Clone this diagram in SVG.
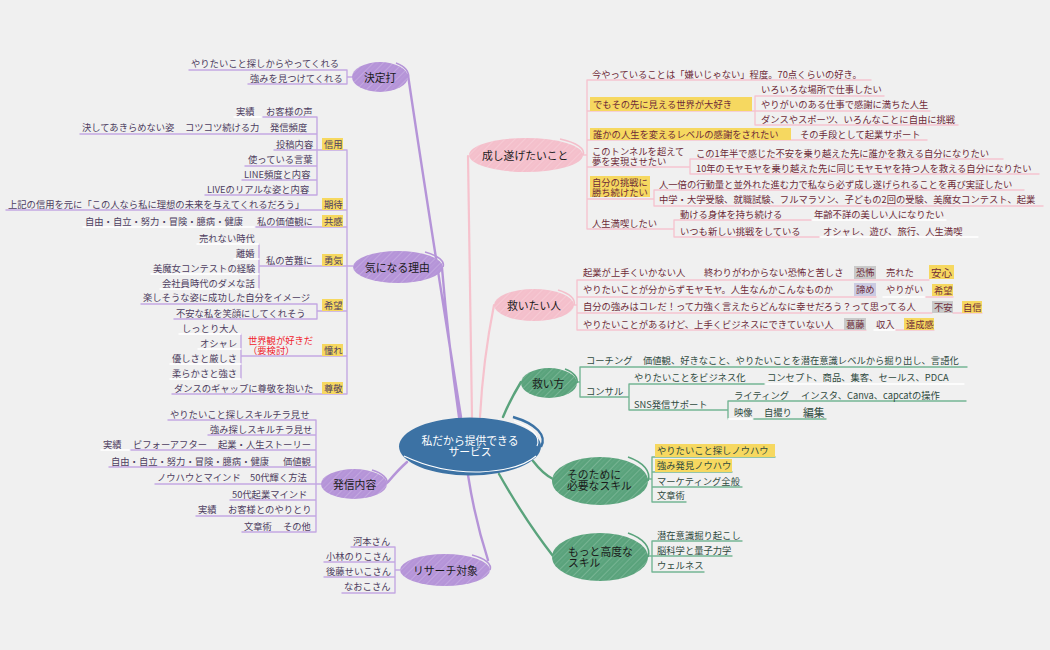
<svg xmlns="http://www.w3.org/2000/svg" width="1050" height="650" viewBox="0 0 1050 650">
<style>
text{font-family:"Noto Sans CJK JP","Noto Sans",sans-serif;font-size:9.3px;dominant-baseline:central}
.p{fill:#4d3d60}.r{fill:#6e2b38}.g{fill:#2f4a3e}.red{fill:#f0222c}
.h{font-size:10.8px;fill:#1a1a1a}.rt{font-size:10.8px;fill:#fff;text-anchor:middle}
.lp,.lr,.lg,.lw,.bp,.br,.bg{fill:none;stroke-linecap:round;stroke-linejoin:round}
.lp{stroke:#c3a8e2;stroke-width:1.4}.lr{stroke:#f5c4cf;stroke-width:1.4}.lg{stroke:#74b594;stroke-width:1.4}.lw{stroke:#fff;stroke-width:1.4}
.bp{stroke:#b594d8;stroke-width:2.4}.br{stroke:#f6c2cd;stroke-width:2.2}.bg{stroke:#5aa37c;stroke-width:2.4}
.y{fill:#f6d860}.gy{fill:#c9c9c9}.lv{fill:#cbcbe2}
.ep{fill:#b594d8}.er{fill:#f4bfcb}.eg{fill:#5aa37c}.hatch{fill:url(#hatch)}
.sp,.sr,.sg{fill:none;stroke-width:1.6}.sp{stroke:#b594d8}.sr{stroke:#f4bfcb}.sg{stroke:#5aa37c}
</style>
<defs>
<pattern id="hatch" width="7" height="7" patternUnits="userSpaceOnUse" patternTransform="rotate(45)"><rect width="1" height="7" fill="#fff" fill-opacity=".18"/><rect x="3.5" width=".6" height="7" fill="#fff" fill-opacity=".1"/></pattern>
</defs>
<rect width="1050" height="650" fill="#f0f0f0"/>
<g id="connectors">
<path class="bp" d="M408 75Q425 190 461 417M442 268Q448 340 459 417M407 462Q398 470 388 482M468 475Q475 520 488 560"/>
<path class="br" d="M468 156Q470 300 472 417M494 305Q483 360 480 417"/>
<path class="bg" d="M503 417Q510 400 521 382M533 461Q543 474 553 479M499 474Q525 520 553 556"/>
<path class="lp" d="M189 70H347M248 84H347M347 70V84M347 77H352M262 117H317M183 134H317M80 134H183M274 150H347M245 166H317M242 180H317M205 195H317M317 117V195M347 150V394M6 210H347M255 227H347M260 266H353M259 244V289M141 304H317M174 319H317M317 304V319M317 311H347M241 356H347M241 334V379M172 394H347M168 420H316M208 435H316M130 450H316M109 467H316M155 484H321M230 500H316M196 516H316M242 532H316M316 420V532M351 547H395M324 562H395M324 577H395M342 593H395M395 547V593M395 570H400"/>
<path class="lw" d="M234 117H262M83 227H255M197 244H259M234 259H259M151 274H259M160 289H259M179 334H241M198 349H241M170 364H241M170 379H241M101 450H130"/>
<path class="lr" d="M587 80H871M587 111H755M755 96H884M755 111H930M755 125H958M755 96V125M587 140H927M587 167H690M690 159H1003M690 174H1039M690 159V174M587 199H654M654 190H1024M654 206H1043M654 190V206M587 229H674M674 220H812M674 237H820M674 220V237M587 80V229M583 155H587M577 280H876M877 280H929M577 297H876M577 313H932M953 313H982M577 330H866M895 330H934M577 280V330M574 305H577M925 297H953"/>
<path class="lw" d="M812 220H946M820 237H978M883 297H925M874 330H895"/>
<path class="lg" d="M580 367H967M580 397H629M629 384H765M629 410H728M629 384V410M728 401H966M753 419H826M728 401V419M580 367V397M577 382H580M652 457H775M652 472H732M652 487H742M652 502H686M652 457V502M648 479H652M652 541H742M652 556H732M652 572H704M652 541V572M648 556H652"/>
<path class="lw" d="M765 384H964M728 419H753"/>
</g>
<g id="root"><ellipse cx="470" cy="446.5" rx="71" ry="29" fill="#3c72a4"/><path d="M404 456Q440 473 480 472Q520 470 536 456" fill="none" stroke="#fff" stroke-width="1.1"/><path d="M513 417A71 29 0 0 1 541 447" fill="none" stroke="#3c72a4" stroke-width="2.4"/><path d="M514 421A68 27 0 0 1 537 446" fill="none" stroke="#fff" stroke-width="1.1"/><text class="rt" x="470" y="440">私だから提供できる<tspan x="470" dy="10.5">サービス</tspan></text></g>
<g id="kettei"><ellipse class="ep" cx="380" cy="77" rx="28" ry="15"/><ellipse class="hatch" cx="380" cy="77" rx="28" ry="15"/><path class="sp" d="M396 63A28 15 0 0 1 408 78"/><text class="h" x="364" y="77">決定打</text></g>
<g id="t1"><text class="p" x="191" y="63">やりたいこと探しからやってくれる</text></g>
<g id="t2"><text class="p" x="250" y="78">強みを見つけてくれる</text></g>
<g id="kininaru"><ellipse class="ep" cx="398" cy="267" rx="45" ry="16"/><ellipse class="hatch" cx="398" cy="267" rx="45" ry="16"/><path class="sp" d="M425 252A45 16 0 0 1 443 267"/><text class="h" x="365" y="267">気になる理由</text></g>
<g id="shinyo"><rect class="y" x="322" y="138" width="21" height="12"/><text class="p" x="324" y="144">信用</text></g>
<g id="t3"><text class="p" x="266" y="111">お客様の声</text></g>
<g id="t4"><text class="p" x="236" y="111">実績</text></g>
<g id="t5"><text class="p" x="270" y="127">発信頻度</text></g>
<g id="t6"><text class="p" x="185" y="127">コツコツ続ける力</text></g>
<g id="t7"><text class="p" x="82" y="127">決してあきらめない姿</text></g>
<g id="t8"><text class="p" x="276" y="144">投稿内容</text></g>
<g id="t9"><text class="p" x="248" y="159">使っている言葉</text></g>
<g id="t10"><text class="p" x="244" y="174">LINE頻度と内容</text></g>
<g id="t11"><text class="p" x="207" y="189">LIVEのリアルな姿と内容</text></g>
<g id="kitai"><rect class="y" x="322" y="198" width="21" height="12"/><text class="p" x="324" y="204">期待</text></g>
<g id="t12"><text class="p" x="8" y="204">上記の信用を元に「この人なら私に理想の未来を与えてくれるだろう」</text></g>
<g id="kyokan"><rect class="y" x="322" y="215" width="21" height="12"/><text class="p" x="324" y="221">共感</text></g>
<g id="t13"><text class="p" x="257" y="221">私の価値観に</text></g>
<g id="t14"><text class="p" x="85" y="221">自由・自立・努力・冒険・臆病・健康</text></g>
<g id="yuki"><rect class="y" x="322" y="254" width="21" height="12"/><text class="p" x="324" y="260">勇気</text></g>
<g id="t15"><text class="p" x="266" y="260">私の苦難に</text></g>
<g id="t16"><text class="p" x="199" y="238">売れない時代</text></g>
<g id="t17"><text class="p" x="236" y="253">離婚</text></g>
<g id="t18"><text class="p" x="153" y="268">美魔女コンテストの経験</text></g>
<g id="t19"><text class="p" x="162" y="283">会社員時代のダメな話</text></g>
<g id="kibo"><rect class="y" x="322" y="299" width="21" height="12"/><text class="p" x="324" y="305">希望</text></g>
<g id="t20"><text class="p" x="143" y="297">楽しそうな姿に成功した自分をイメージ</text></g>
<g id="t21"><text class="p" x="176" y="313">不安な私を笑顔にしてくれそう</text></g>
<g id="akogare"><rect class="y" x="322" y="344" width="21" height="12"/><text class="p" x="324" y="350">憧れ</text></g>
<g id="t22"><text class="red" x="248" y="340">世界観が好きだ<tspan x="248" dy="10">（要検討）</tspan></text></g>
<g id="t23"><text class="p" x="182" y="328">しっとり大人</text></g>
<g id="t24"><text class="p" x="200" y="343">オシャレ</text></g>
<g id="t25"><text class="p" x="172" y="358">優しさと厳しさ</text></g>
<g id="t26"><text class="p" x="172" y="373">柔らかさと強さ</text></g>
<g id="sonkei"><rect class="y" x="322" y="382" width="21" height="12"/><text class="p" x="324" y="388">尊敬</text></g>
<g id="t27"><text class="p" x="174" y="388">ダンスのギャップに尊敬を抱いた</text></g>
<g id="hasshin"><ellipse class="ep" cx="354" cy="484" rx="33" ry="15"/><ellipse class="hatch" cx="354" cy="484" rx="33" ry="15"/><path class="sp" d="M372 470A33 15 0 0 1 387 484"/><text class="h" x="333" y="484">発信内容</text></g>
<g id="t28"><text class="p" x="170" y="414">やりたいこと探しスキルチラ見せ</text></g>
<g id="t29"><text class="p" x="210" y="429">強み探しスキルチラ見せ</text></g>
<g id="t30"><text class="p" x="218" y="444">起業・人生ストーリー</text></g>
<g id="t31"><text class="p" x="133" y="444">ビフォーアフター</text></g>
<g id="t32"><text class="p" x="103" y="444">実績</text></g>
<g id="t33"><text class="p" x="283" y="461">価値観</text></g>
<g id="t34"><text class="p" x="111" y="461">自由・自立・努力・冒険・臆病・健康</text></g>
<g id="t35"><text class="p" x="250" y="477">50代輝く方法</text></g>
<g id="t36"><text class="p" x="157" y="477">ノウハウとマインド</text></g>
<g id="t37"><text class="p" x="232" y="494">50代起業マインド</text></g>
<g id="t38"><text class="p" x="228" y="509">お客様とのやりとり</text></g>
<g id="t39"><text class="p" x="198" y="509">実績</text></g>
<g id="t40"><text class="p" x="283" y="526">その他</text></g>
<g id="t41"><text class="p" x="244" y="526">文章術</text></g>
<g id="research"><ellipse class="ep" cx="445" cy="570" rx="45" ry="16"/><ellipse class="hatch" cx="445" cy="570" rx="45" ry="16"/><path class="sp" d="M472 555A45 16 0 0 1 490 570"/><text class="h" x="413" y="570">リサーチ対象</text></g>
<g id="t42"><text class="p" x="353" y="541">河本さん</text></g>
<g id="t43"><text class="p" x="326" y="556">小林のりこさん</text></g>
<g id="t44"><text class="p" x="326" y="571">後藤せいこさん</text></g>
<g id="t45"><text class="p" x="344" y="586">なおこさん</text></g>
<g id="nashitogetai"><ellipse class="er" cx="526" cy="155" rx="57" ry="17"/><ellipse class="hatch" cx="526" cy="155" rx="57" ry="17"/><path class="sr" d="M560 139A57 17 0 0 1 583 155"/><text class="h" x="482" y="155">成し遂げたいこと</text></g>
<g id="r1"><text class="r" x="592" y="74">今やっていることは「嫌いじゃない」程度。70点くらいの好き。</text></g>
<g id="r2"><rect class="y" x="590" y="97" width="162" height="14"/><text class="r" x="593" y="104">でもその先に見える世界が大好き</text></g>
<g id="r3"><text class="r" x="761" y="89">いろいろな場所で仕事したい</text></g>
<g id="r4"><text class="r" x="761" y="104">やりがいのある仕事で感謝に満ちた人生</text></g>
<g id="r5"><text class="r" x="761" y="119">ダンスやスポーツ、いろんなことに自由に挑戦</text></g>
<g id="r6"><rect class="y" x="590" y="128" width="201" height="12"/><text class="r" x="593" y="134">誰かの人生を変えるレベルの感謝をされたい</text></g>
<g id="r7"><text class="r" x="800" y="134">その手段として起業サポート</text></g>
<g id="r8"><text class="r" x="592" y="151">このトンネルを超えて<tspan x="592" dy="10">夢を実現させたい</tspan></text></g>
<g id="r9"><text class="r" x="696" y="153">この1年半で感じた不安を乗り越えた先に誰かを救える自分になりたい</text></g>
<g id="r10"><text class="r" x="696" y="168">10年のモヤモヤを乗り越えた先に同じモヤモヤを持つ人を救える自分になりたい</text></g>
<g id="r11"><rect class="y" x="590" y="176" width="60" height="21"/><text class="r" x="592" y="182">自分の挑戦に<tspan x="592" dy="10">勝ち続けたい</tspan></text></g>
<g id="r12"><text class="r" x="659" y="184">人一倍の行動量と並外れた進む力で私なら必ず成し遂げられることを再び実証したい</text></g>
<g id="r13"><text class="r" x="659" y="199">中学・大学受験、就職試験、フルマラソン、子どもの2回の受験、美魔女コンテスト、起業</text></g>
<g id="r14"><text class="r" x="592" y="223">人生満喫したい</text></g>
<g id="r15"><text class="r" x="680" y="214">動ける身体を持ち続ける</text></g>
<g id="r16"><text class="r" x="814" y="214">年齢不詳の美しい人になりたい</text></g>
<g id="r17"><text class="r" x="680" y="231">いつも新しい挑戦をしている</text></g>
<g id="r18"><text class="r" x="823" y="231">オシャレ、遊び、旅行、人生満喫</text></g>
<g id="sukuitai"><ellipse class="er" cx="534" cy="305" rx="40" ry="16"/><ellipse class="hatch" cx="534" cy="305" rx="40" ry="16"/><path class="sr" d="M558 290A40 16 0 0 1 574 305"/><text class="h" x="507" y="305">救いたい人</text></g>
<g id="s1"><text class="r" x="583" y="272">起業が上手くいかない人</text></g>
<g id="s2"><text class="r" x="704" y="272">終わりがわからない恐怖と苦しさ</text></g>
<g id="s3"><rect class="gy" x="854" y="266" width="22" height="13"/><text class="r" x="856" y="272">恐怖</text></g>
<g id="s4"><text class="r" x="886" y="272">売れた</text></g>
<g id="s5"><rect class="y" x="929" y="265" width="25" height="14"/><text class="r" x="931" y="272" style="font-size:10.5px">安心</text></g>
<g id="s6"><text class="r" x="583" y="289">やりたいことが分からずモヤモヤ。人生なんかこんなものか</text></g>
<g id="s7"><rect class="lv" x="854" y="283" width="22" height="13"/><text class="r" x="856" y="289">諦め</text></g>
<g id="s8"><text class="r" x="886" y="289">やりがい</text></g>
<g id="s9"><rect class="y" x="932" y="284" width="21" height="12"/><text class="r" x="934" y="290">希望</text></g>
<g id="s10"><text class="r" x="583" y="306">自分の強みはコレだ！って力強く言えたらどんなに幸せだろう？って思ってる人</text></g>
<g id="s11"><rect class="gy" x="932" y="301" width="21" height="12"/><text class="r" x="934" y="307">不安</text></g>
<g id="s12"><rect class="y" x="962" y="301" width="20" height="12"/><text class="r" x="963" y="307">自信</text></g>
<g id="s13"><text class="r" x="583" y="324">やりたいことがあるけど、上手くビジネスにできていない人</text></g>
<g id="s14"><rect class="gy" x="844" y="318" width="22" height="12"/><text class="r" x="846" y="324">葛藤</text></g>
<g id="s15"><text class="r" x="876" y="324">収入</text></g>
<g id="s16"><rect class="y" x="904" y="318" width="30" height="12"/><text class="r" x="906" y="324">達成感</text></g>
<g id="sukuikata"><ellipse class="eg" cx="549" cy="383" rx="28" ry="15"/><ellipse class="hatch" cx="549" cy="383" rx="28" ry="15"/><path class="sg" d="M565 369A28 15 0 0 1 577 383"/><text class="h" x="532" y="383">救い方</text></g>
<g id="k1"><text class="g" x="586" y="360">コーチング</text></g>
<g id="k2"><text class="g" x="643" y="360">価値観、好きなこと、やりたいことを潜在意識レベルから掘り出し、言語化</text></g>
<g id="k3"><text class="g" x="586" y="391">コンサル</text></g>
<g id="k4"><text class="g" x="634" y="377">やりたいことをビジネス化</text></g>
<g id="k5"><text class="g" x="767" y="377">コンセプト、商品、集客、セールス、PDCA</text></g>
<g id="k6"><text class="g" x="634" y="404">SNS発信サポート</text></g>
<g id="k7"><text class="g" x="734" y="395">ライティング</text></g>
<g id="k8"><text class="g" x="801" y="395">インスタ、Canva、capcatの操作</text></g>
<g id="k9"><text class="g" x="734" y="412">映像</text></g>
<g id="k10"><text class="g" x="764" y="412">自撮り</text></g>
<g id="k11"><text class="g" x="803" y="412" style="font-size:10.8px">編集</text></g>
<g id="sonotame"><ellipse class="eg" cx="600" cy="481" rx="48" ry="24"/><ellipse class="hatch" cx="600" cy="481" rx="48" ry="24"/><path class="sg" d="M628 457A48 24 0 0 1 648 481"/><text class="h" x="567" y="474">そのために<tspan x="567" dy="11">必要なスキル</tspan></text></g>
<g id="u1"><rect class="y" x="655" y="444" width="120" height="13"/><text class="g" x="657" y="450">やりたいこと探しノウハウ</text></g>
<g id="u2"><rect class="y" x="655" y="459" width="77" height="13"/><text class="g" x="657" y="465">強み発見ノウハウ</text></g>
<g id="u3"><text class="g" x="657" y="481">マーケティング全般</text></g>
<g id="u4"><text class="g" x="657" y="495">文章術</text></g>
<g id="motto"><ellipse class="eg" cx="600" cy="557" rx="48" ry="24"/><ellipse class="hatch" cx="600" cy="557" rx="48" ry="24"/><path class="sg" d="M628 533A48 24 0 0 1 648 557"/><text class="h" x="568" y="551">もっと高度な<tspan x="568" dy="11">スキル</tspan></text></g>
<g id="v1"><text class="g" x="657" y="535">潜在意識掘り起こし</text></g>
<g id="v2"><text class="g" x="657" y="550">脳科学と量子力学</text></g>
<g id="v3"><text class="g" x="657" y="565">ウェルネス</text></g>
</svg>
